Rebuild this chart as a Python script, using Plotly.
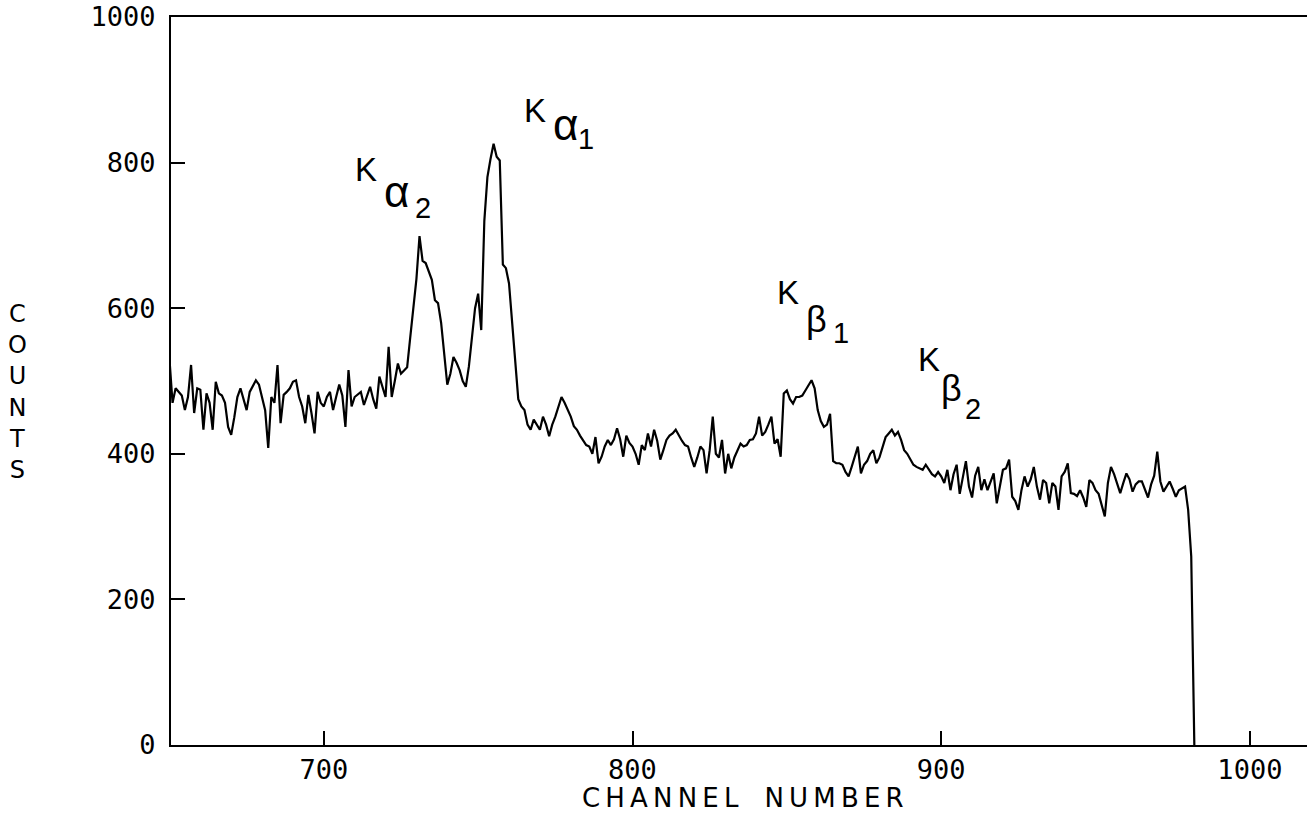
import plotly.graph_objects as go

# ---- data ----
start_channel = 650
counts = [
    530, 470, 490, 485, 480, 460, 478, 522, 456, 490,   # 650
    488, 433, 483, 470, 433, 499, 483, 480, 470, 437,   # 660
    426, 450, 478, 490, 475, 460, 485, 492, 501, 495,   # 670
    478, 460, 408, 478, 470, 522, 442, 481, 485, 490,   # 680
    499, 501, 478, 465, 442, 481, 456, 428, 485, 470,   # 690
    465, 478, 485, 460, 478, 495, 480, 437, 515, 465,   # 700
    478, 481, 485, 467, 480, 492, 475, 462, 506, 490,   # 710
    478, 547, 478, 500, 524, 510, 515, 519, 560, 600,   # 720
    640, 699, 665, 662, 650, 639, 611, 607, 580, 540,   # 730
    495, 510, 533, 525, 515, 500, 492, 520, 560, 600,   # 740
    620, 570, 720, 780, 805, 826, 808, 803, 660, 655,   # 750
    634, 579, 530, 475, 465, 460, 440, 433, 447, 440,   # 760
    433, 451, 440, 424, 440, 451, 465, 478, 470, 460,   # 770
    451, 438, 433, 425, 419, 412, 410, 400, 423, 387,   # 780
    396, 410, 419, 412, 420, 435, 420, 396, 425, 415,   # 790
    410, 400, 385, 412, 405, 428, 410, 433, 418, 392,   # 800
    405, 419, 425, 428, 433, 425, 418, 412, 410, 395,   # 810
    382, 395, 410, 405, 373, 405, 451, 400, 395, 419,   # 820
    373, 400, 380, 395, 405, 414, 410, 412, 419, 420,   # 830
    428, 451, 425, 430, 440, 451, 414, 420, 396, 483,   # 840
    487, 475, 469, 478, 478, 480, 487, 495, 501, 490,   # 850
    460, 445, 437, 440, 455, 390, 387, 387, 385, 375,   # 860
    369, 382, 395, 410, 373, 385, 390, 400, 405, 387,   # 870
    395, 410, 423, 428, 433, 425, 430, 419, 405, 400,   # 880
    392, 385, 382, 380, 378, 385, 378, 372, 369, 375,   # 890
    369, 360, 378, 350, 372, 385, 345, 368, 390, 355,   # 900
    340, 370, 382, 350, 365, 350, 362, 373, 332, 355,   # 910
    378, 380, 392, 341, 335, 323, 350, 369, 355, 365,   # 920
    382, 355, 337, 364, 360, 332, 360, 355, 323, 369,   # 930
    375, 387, 346, 345, 342, 350, 340, 327, 364, 360,   # 940
    350, 345, 330, 314, 360, 382, 372, 360, 346, 360,   # 950
    373, 365, 348, 358, 362, 362, 352, 340, 358, 370,   # 960
    403, 362, 348, 355, 362, 352, 341, 350, 352, 355,   # 970
    323, 259, 0,                                        # 980
]
channels = list(range(start_channel, start_channel + len(counts)))

x_ticks = [700, 800, 900, 1000]
y_ticks = [0, 200, 400, 600, 800, 1000]

# peak labels: (channel, count) positions of K, greek letter, index digit
peak_letters = ["α", "α", "β", "β"]
peak_indices = ["2", "1", "1", "2"]
k_pos = [(713.8, 790), (768.4, 872), (850.3, 622), (896.0, 529)]
greek_pos = [(723.6, 760), (778.3, 852), (859.6, 585), (903.3, 490)]
index_pos = [(732.0, 737), (785.0, 833), (867.5, 566), (910.2, 462)]

# ---- figure ----
fig = go.Figure()
fig.add_trace(go.Scatter(
    x=channels, y=counts, mode="lines",
    line=dict(color="black", width=2.2),
    showlegend=False,
))

mono = "DejaVu Sans Mono"
label_font = "Liberation Sans"

ann = []
for i in range(len(k_pos)):
    ann.append(dict(x=k_pos[i][0], y=k_pos[i][1], xref="x", yref="y", text="K",
                    showarrow=False, font=dict(family=label_font, size=33, color="black")))
    ann.append(dict(x=greek_pos[i][0], y=greek_pos[i][1], xref="x", yref="y", text=peak_letters[i],
                    showarrow=False, font=dict(family=label_font, size=44 if peak_letters[i] == "α" else 36,
                                               color="black")))
    ann.append(dict(x=index_pos[i][0], y=index_pos[i][1], xref="x", yref="y", text=peak_indices[i],
                    showarrow=False, font=dict(family=label_font, size=29, color="black")))

ann.append(dict(x=-0.1347, y=0.485, xref="paper", yref="paper",
                text="C<br>O<br>U<br>N<br>T<br>S", showarrow=False,
                xanchor="center", yanchor="middle",
                font=dict(family="DejaVu Sans", size=24, color="black")))
ann.append(dict(x=0.5035, y=-0.073, xref="paper", yref="paper",
                text="\u2009".join("CHANNEL") + "\u2003" + "\u2009".join("NUMBER"),
                showarrow=False,
                xanchor="center", yanchor="middle",
                font=dict(family="DejaVu Sans", size=26, color="black")))

fig.update_layout(
    width=1307, height=817,
    margin=dict(l=171, r=0, t=17, b=72),
    paper_bgcolor="white", plot_bgcolor="white",
    annotations=ann,
    xaxis=dict(
        range=[650.5, 1018.5], tickvals=x_ticks, ticktext=[str(v) for v in x_ticks],
        ticks="inside", ticklen=14, tickwidth=1.5, tickcolor="black",
        showline=True, linecolor="black", linewidth=2, mirror=True,
        showgrid=False, zeroline=False,
        tickfont=dict(family=mono, size=27, color="black"),
        ticklabelstandoff=0,
    ),
    yaxis=dict(
        range=[0, 1000], tickvals=y_ticks, ticktext=[str(v) for v in y_ticks],
        ticks="inside", ticklen=14, tickwidth=1.5, tickcolor="black",
        showline=True, linecolor="black", linewidth=2, mirror=False,
        showgrid=False, zeroline=False,
        tickfont=dict(family=mono, size=27, color="black"),
        ticklabelstandoff=8,
    ),
)

fig.write_html("out.html")
